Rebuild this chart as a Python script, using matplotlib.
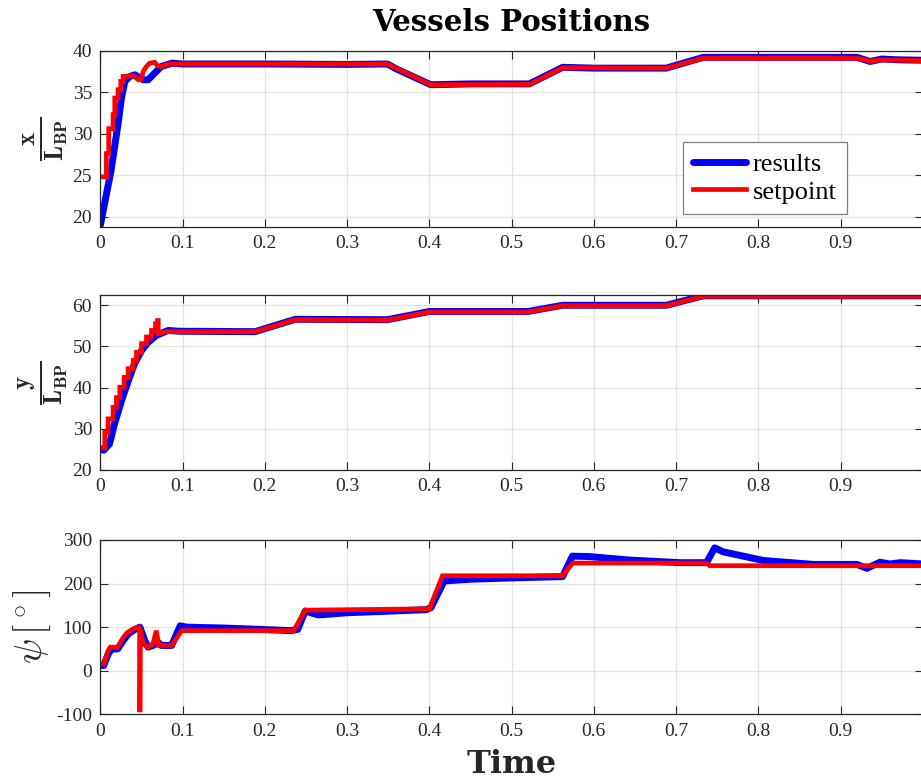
import numpy as np
import matplotlib
matplotlib.use("Agg")
import matplotlib.pyplot as plt

# ---------------- data ----------------
# x / L_BP
x_res_t = [0, 0.013, 0.0215, 0.0256, 0.0297, 0.0358, 0.042, 0.052, 0.058, 0.066, 0.074, 0.087, 0.1,
           0.2, 0.3, 0.349, 0.36, 0.4017, 0.45, 0.5216, 0.562, 0.6, 0.688, 0.733, 0.8, 0.92, 0.936,
           0.95, 0.97, 1.0]
x_res = [19.0, 25.6, 31.2, 34.3, 36.3, 36.9, 37.1, 36.5, 36.5, 37.3, 38.1, 38.5, 38.4,
         38.4, 38.35, 38.4, 37.8, 35.9, 36.0, 36.0, 38.0, 37.9, 37.9, 39.2, 39.2, 39.2, 38.7,
         39.0, 38.9, 38.85]
x_set_step_t = [0.0033, 0.0073, 0.0101, 0.0154, 0.0175, 0.0215, 0.0248, 0.0276]
x_set_step = [24.8, 27.6, 30.6, 32.3, 34.3, 35.3, 36.3, 36.9]
x_set_t = [0.0398, 0.046, 0.05, 0.052, 0.056, 0.060, 0.066, 0.0695, 0.0744, 0.0825, 0.349,
           0.4017, 0.5216, 0.562, 0.688, 0.733, 0.92, 0.936, 0.95, 1.0]
x_set = [37.0, 36.5, 36.6, 37.5, 38.1, 38.5, 38.6, 38.2, 38.1, 38.4, 38.4,
         35.9, 35.95, 37.95, 37.9, 39.1, 39.1, 38.75, 38.9, 38.8]

# y / L_BP
y_res_t = [0, 0.004, 0.011, 0.017, 0.0256, 0.034, 0.0415, 0.05, 0.058, 0.068, 0.0825, 0.095,
           0.188, 0.237, 0.349, 0.40, 0.52, 0.562, 0.688, 0.733, 1.0]
y_res = [25.0, 24.8, 26.3, 31.1, 36.8, 41.7, 45.8, 49.0, 51.0, 52.7, 53.9, 53.7,
         53.6, 56.6, 56.5, 58.5, 58.5, 60.0, 60.0, 62.3, 62.3]
y_set_step_t = [0.001, 0.0053, 0.0093, 0.0154, 0.0195, 0.0236, 0.0289, 0.0337, 0.0398, 0.0439,
                0.05, 0.056, 0.0622, 0.067, 0.0695]
y_set_step = [25.4, 29.1, 32.4, 35.2, 37.6, 40.1, 42.5, 44.6, 46.6, 48.6,
              50.7, 52.3, 53.9, 55.5, 56.3]
y_set_t = [0.0703, 0.0703, 0.08, 0.188, 0.237, 0.349, 0.40, 0.52, 0.562, 0.688, 0.733, 1.0]
y_set = [56.3, 53.1, 53.6, 53.6, 56.5, 56.4, 58.4, 58.4, 59.9, 59.9, 62.2, 62.2]

# psi [deg]
psi_res_t = [0, 0.004, 0.0094, 0.0134, 0.021, 0.028, 0.034, 0.042, 0.048, 0.054, 0.058, 0.064,
             0.0703, 0.074, 0.0866, 0.097, 0.105, 0.15, 0.192, 0.2317, 0.24, 0.249, 0.265, 0.3,
             0.396, 0.402, 0.418, 0.45, 0.5, 0.562, 0.574, 0.594, 0.6435, 0.7045, 0.737, 0.747,
             0.757, 0.806, 0.867, 0.92, 0.932, 0.948, 0.96, 0.973, 1.0]
psi_res = [12, 12, 38, 50, 50, 70, 85, 95, 100, 69, 54, 58,
           65, 58, 58, 103, 100, 98, 95, 92, 95, 137, 128, 133,
           140, 145, 206, 210, 213, 216, 263, 262, 254, 248, 248, 282,
           273, 253, 244, 244, 235, 249, 245, 248, 245]
psi_set_t = [0, 0.004, 0.0094, 0.012, 0.021, 0.028, 0.033, 0.04, 0.0467, 0.048, 0.048, 0.0483,
             0.052, 0.058, 0.064, 0.068, 0.071, 0.0866, 0.0988, 0.235, 0.249, 0.40, 0.416,
             0.562, 0.574, 0.737, 0.741, 1.0]
psi_set = [16, 16, 46, 54, 54, 77, 88, 96, 100, 95, -95, 95,
           62, 54, 62, 92, 58, 58, 92, 92, 139, 142, 218,
           218, 247, 247, 241, 241]

x_ticks = [0, 0.1, 0.2, 0.3, 0.4, 0.5, 0.6, 0.7, 0.8, 0.9, 1.0]
x_tick_labels = ["0", "0.1", "0.2", "0.3", "0.4", "0.5", "0.6", "0.7", "0.8", "0.9", ""]
x_yticks = [20, 25, 30, 35, 40]
y_yticks = [20, 30, 40, 50, 60]
psi_yticks = [-100, 0, 100, 200, 300]


def stairs(ts, vs):
    """expand step times/levels into corner points (steps-post)"""
    tt, vv = [], []
    for i, (t, v) in enumerate(zip(ts, vs)):
        tt.append(t)
        vv.append(v)
        if i + 1 < len(ts):
            tt.append(ts[i + 1])
            vv.append(v)
    return tt, vv


xs_t, xs_v = stairs(x_set_step_t, x_set_step)
x_set_full_t = xs_t + x_set_t
x_set_full = xs_v + x_set
ys_t, ys_v = stairs(y_set_step_t, y_set_step)
y_set_full_t = ys_t + y_set_t
y_set_full = ys_v + y_set

# ---------------- style ----------------
plt.rcParams["font.family"] = ["Liberation Serif", "DejaVu Serif"]
plt.rcParams["mathtext.fontset"] = "cm"
plt.rcParams["axes.unicode_minus"] = False

DARK = "#262626"
BLUE = "#0000ff"
RED = "#ff0000"

W, H = 921, 782
fig = plt.figure(figsize=(W / 100, H / 100), dpi=100)

left = 100.4 / W
width = 822.4 / W
boxes = [(50.7, 226.7), (295, 470), (540, 714.3)]
axes = []
for top_px, bot_px in boxes:
    ax = fig.add_axes([left, 1 - bot_px / H, width, (bot_px - top_px) / H])
    axes.append(ax)


def style(ax, yticks, ylim):
    ax.set_xlim(0, 1)
    ax.set_ylim(*ylim)
    ax.set_xticks(x_ticks)
    ax.set_xticklabels(x_tick_labels)
    ax.set_yticks(yticks)
    ax.set_yticklabels([str(v) for v in yticks])
    ax.grid(True, color="#e3e3e3", lw=0.9)
    ax.set_axisbelow(True)
    ax.tick_params(direction="in", length=6, width=0.8, color=DARK, labelcolor=DARK,
                   labelsize=14, top=True, right=True, pad=6)
    for s in ax.spines.values():
        s.set_color(DARK)
        s.set_linewidth(0.9)


ax1, ax2, ax3 = axes
ax1.plot(x_res_t, x_res, color=BLUE, lw=5, solid_capstyle="round", solid_joinstyle="round", label="results")
ax1.plot(x_set_full_t, x_set_full, color=RED, lw=3.4, solid_joinstyle="miter", label="setpoint")
style(ax1, x_yticks, (18.8, 40))

ax2.plot(y_res_t, y_res, color=BLUE, lw=5, solid_capstyle="round", solid_joinstyle="round")
ax2.plot(y_set_full_t, y_set_full, color=RED, lw=3.4, solid_joinstyle="miter")
style(ax2, y_yticks, (20, 62.5))

ax3.plot(psi_res_t, psi_res, color=BLUE, lw=5, solid_capstyle="round", solid_joinstyle="round")
ax3.plot(psi_set_t, psi_set, color=RED, lw=3.4, solid_joinstyle="miter")
style(ax3, psi_yticks, (-100, 300))

ax1.set_ylabel(r"$\frac{\mathbf{x}}{\mathbf{L_{BP}}}$", fontsize=26, color=DARK, labelpad=1)
ax2.set_ylabel(r"$\frac{\mathbf{y}}{\mathbf{L_{BP}}}$", fontsize=26, color=DARK, labelpad=1)
ax3.set_ylabel(r"$\psi\,[^\circ]$", fontsize=27, color=DARK, labelpad=2)

ax1.set_title("Vessels Positions", fontsize=21, fontweight="bold", family="DejaVu Serif",
              color="black", pad=14)
ax3.set_xlabel("Time", fontsize=23, fontweight="bold", family="DejaVu Serif",
               color=DARK, labelpad=7)

leg = ax1.legend(loc="upper right", bbox_to_anchor=(0.908, 0.481), fontsize=19,
                 frameon=True, fancybox=False, edgecolor="#7f7f7f", framealpha=1,
                 handlelength=2.0, handletextpad=0.25, borderpad=0.4, labelspacing=0.15,
                 borderaxespad=0)
leg.get_frame().set_linewidth(0.9)
for txt in leg.get_texts():
    txt.set_color("black")

fig.savefig("out.png", dpi=100)
